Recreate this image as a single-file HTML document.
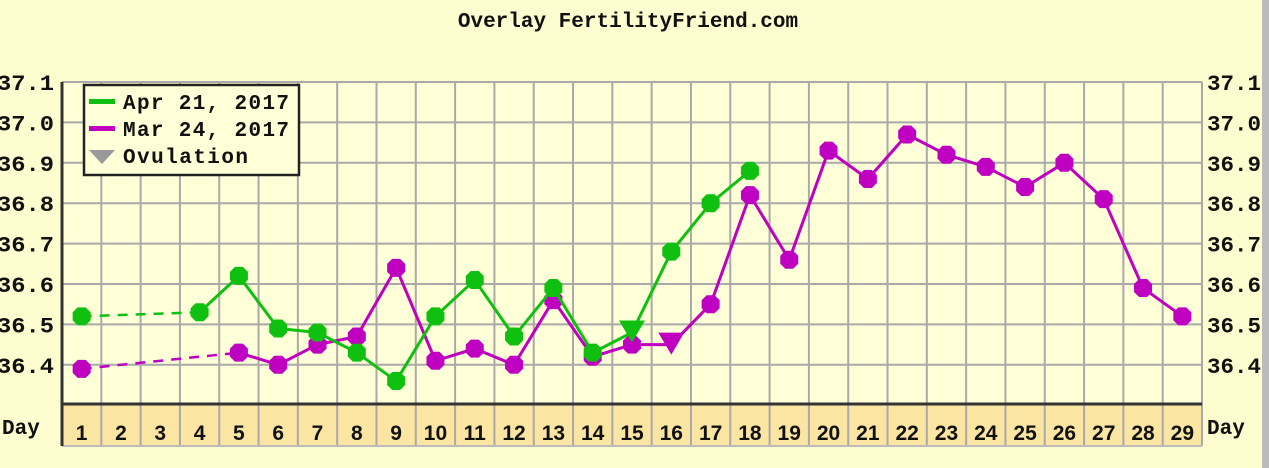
<!DOCTYPE html>
<html><head><meta charset="utf-8"><style>
html,body{margin:0;padding:0;background:#fefdd0;}
svg{display:block}
text{font-family:"Liberation Mono",monospace;font-weight:bold;fill:#111}
</style></head><body>
<svg id="s" width="1269" height="468" xmlns="http://www.w3.org/2000/svg">
<rect width="1269" height="468" fill="#fefdd0"/>
<rect x="1262" y="0" width="7" height="468" fill="#bbb"/>
<text x="628" y="27" font-size="21" text-anchor="middle">Overlay FertilityFriend.com</text>
<rect x="62" y="82" width="1140" height="322" fill="#ffffd8"/>
<rect x="62" y="404" width="1140" height="42" fill="#fbe5a2"/>
<g id="g"></g>
</svg>
<script>
const s=document.getElementById('g');
const L=62,W=1140/29,T=82,S=404;
const y=v=>T+(37.1-v)*S;const x=d=>L+(d-0.5)*W;
let h='';
for(let i=0;i<=29;i++){const xx=L+i*W;h+=`<line x1="${xx}" y1="82" x2="${xx}" y2="446" stroke="#a9a9a9" stroke-width="2"/>`;}
h+=`<line x1="62" y1="446" x2="1202" y2="446" stroke="#bbb" stroke-width="2"/>`;
const ticks=['37.1','37.0','36.9','36.8','36.7','36.6','36.5','36.4'];
ticks.forEach((t,i)=>{const yy=T+i*40.4;h+=`<line x1="62" y1="${yy}" x2="1202" y2="${yy}" stroke="#a9a9a9" stroke-width="2"/>`;
h+=`<text x="-3" y="${yy+8}" font-size="22" textLength="57" lengthAdjust="spacingAndGlyphs">${t}</text><text x="1207" y="${yy+8}" font-size="22" textLength="54" lengthAdjust="spacingAndGlyphs">${t}</text>`;});
h+=`<line x1="62" y1="404" x2="1202" y2="404" stroke="#333" stroke-width="3"/>`;
h+=`<line x1="62" y1="82" x2="62" y2="446" stroke="#333" stroke-width="3"/>`;
for(let d=1;d<=29;d++)h+=`<text x="${x(d)}" y="440" font-size="21" text-anchor="middle" style="font-family:'Liberation Sans',sans-serif">${d}</text>`;
h+=`<text x="2" y="434" font-size="21">Day</text><text x="1207" y="434" font-size="21">Day</text>`;
function series(pts,c,dashTo,ov){
 const p=pts.map(a=>[x(a[0]),y(a[1])]);
 let solid=p.slice(dashTo).map(a=>a.join(',')).join(' ');
 h+=`<line x1="${p[0][0]}" y1="${p[0][1]}" x2="${p[1][0]}" y2="${p[1][1]}" stroke="${c}" stroke-width="2.5" stroke-dasharray="10,8"/>`;
 h+=`<polyline points="${solid}" fill="none" stroke="${c}" stroke-width="3"/>`;
 pts.forEach((a,i)=>{const [px,py]=p[i];
  if(a[0]===ov){h+=`<polygon points="${px-13},${py-12} ${px+13},${py-12} ${px},${py+10}" fill="${c}"/>`;}
  else{const r=9,k=4;h+=`<polygon points="${px-k},${py-r} ${px+k},${py-r} ${px+r},${py-k} ${px+r},${py+k} ${px+k},${py+r} ${px-k},${py+r} ${px-r},${py+k} ${px-r},${py-k}" fill="${c}"/>`;}
 });
}
const m=[[1,36.39],[5,36.43],[6,36.40],[7,36.45],[8,36.47],[9,36.64],[10,36.41],[11,36.44],[12,36.40],[13,36.56],[14,36.42],[15,36.45],[16,36.45],[17,36.55],[18,36.82],[19,36.66],[20,36.93],[21,36.86],[22,36.97],[23,36.92],[24,36.89],[25,36.84],[26,36.90],[27,36.81],[28,36.59],[29,36.52]];
const g=[[1,36.52],[4,36.53],[5,36.62],[6,36.49],[7,36.48],[8,36.43],[9,36.36],[10,36.52],[11,36.61],[12,36.47],[13,36.59],[14,36.43],[15,36.48],[16,36.68],[17,36.80],[18,36.88]];
series(m,'#c000c0',1,16);
series(g,'#10c010',1,15);
h+=`<rect x="84" y="85" width="215" height="90" fill="#ffffd8" stroke="#222" stroke-width="2.5"/>`;
h+=`<rect x="89" y="99" width="26" height="5" fill="#10c010"/><rect x="89" y="126" width="26" height="5" fill="#c000c0"/>`;
h+=`<polygon points="89,150 115,150 102,164" fill="#999"/>`;
h+=`<text x="123" y="109" font-size="21" textLength="166">Apr 21, 2017</text><text x="123" y="136" font-size="21" textLength="166">Mar 24, 2017</text><text x="123" y="163" font-size="21" textLength="125">Ovulation</text>`;
s.innerHTML=h;
</script>
</body></html>
